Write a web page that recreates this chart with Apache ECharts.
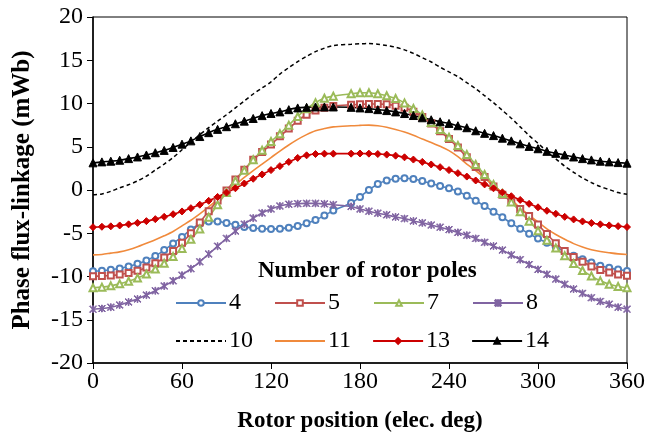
<!DOCTYPE html>
<html><head><meta charset="utf-8">
<script src="https://cdn.jsdelivr.net/npm/echarts@6/dist/echarts.min.js"></script>
<style>html,body{margin:0;padding:0;background:#fff;width:648px;height:438px;overflow:hidden}#c{width:648px;height:438px;display:block}</style>
</head><body><div id="c"></div>
<script>
// Rotor positions (elec. deg) - no sample at 168
var positions = [0,6,12,18,24,30,36,42,48,54,60,66,72,78,84,90,96,102,108,114,120,126,132,138,144,150,156,162,
  174,180,186,192,198,204,210,216,222,228,234,240,246,252,258,264,270,276,282,288,294,300,306,312,318,324,330,336,342,348,354,360];
var p4 = [-9.4,-9.33,-9.22,-9.07,-8.84,-8.53,-8.15,-7.62,-6.94,-6.18,-5.42,-4.58,-3.9,-3.63,-3.63,-3.82,-4.01,-4.28,-4.39,-4.47,-4.5,-4.47,-4.35,-4.15,-3.85,-3.48,-2.95,-2.38,
  -1.5,-0.8,0.0,0.7,1.1,1.3,1.35,1.27,1.05,0.75,0.45,0.2,-0.17,-0.67,-1.25,-1.85,-2.5,-3.15,-3.85,-4.47,-5.05,-5.6,-6.1,-6.6,-7.1,-7.6,-8.0,-8.38,-8.76,-9.0,-9.2,-9.35];
var p5 = [-9.98,-9.94,-9.88,-9.78,-9.6,-9.33,-8.95,-8.46,-7.81,-7.05,-6.1,-5.0,-3.75,-2.45,-1.2,-0.05,1.2,2.35,3.5,4.4,5.25,6.2,7.1,8.0,8.7,9.2,9.5,9.7,
  9.85,9.9,9.95,9.95,9.9,9.75,9.5,9.05,8.45,7.7,6.8,5.9,4.9,3.8,2.65,1.5,0.4,-0.55,-1.35,-2.2,-3.0,-4.0,-5.1,-6.15,-7.05,-7.75,-8.3,-8.85,-9.25,-9.55,-9.78,-9.9];
var p7 = [-11.3,-11.23,-11.08,-10.85,-10.55,-10.17,-9.71,-9.14,-8.46,-7.7,-6.75,-5.7,-4.5,-3.15,-1.7,-0.3,1.05,2.27,3.5,4.6,5.6,6.5,7.5,8.5,9.4,10.1,10.6,10.85,
  11.12,11.23,11.25,11.12,10.9,10.57,10.07,9.43,8.67,7.8,7.0,6.1,5.15,4.1,2.95,1.8,0.65,-0.4,-1.4,-2.5,-3.6,-4.7,-5.8,-6.7,-7.6,-8.5,-9.3,-9.95,-10.5,-10.9,-11.15,-11.3];
var p8 = [-13.78,-13.7,-13.55,-13.3,-12.95,-12.6,-12.15,-11.65,-11.1,-10.5,-9.85,-9.1,-8.3,-7.4,-6.5,-5.6,-4.75,-3.95,-3.25,-2.65,-2.2,-1.85,-1.65,-1.58,-1.55,-1.55,-1.6,-1.7,
  -1.9,-2.2,-2.45,-2.68,-2.87,-3.12,-3.3,-3.58,-3.8,-4.05,-4.3,-4.58,-4.9,-5.23,-5.6,-6.05,-6.48,-6.95,-7.5,-8.05,-8.62,-9.18,-9.75,-10.3,-10.9,-11.45,-11.95,-12.45,-12.88,-13.2,-13.55,-13.77];
var p10 = [-0.55,-0.45,-0.15,0.25,0.6,1.05,1.6,2.3,3.0,3.75,4.65,5.55,6.4,7.2,7.95,8.7,9.5,10.3,11.1,11.8,12.5,13.4,14.15,14.85,15.45,16.0,16.4,16.7,
  16.85,16.9,16.93,16.85,16.7,16.5,16.2,15.8,15.3,14.8,14.2,13.65,13.1,12.4,11.7,10.9,10.1,9.2,8.3,7.3,6.3,5.4,4.45,3.6,2.75,2.05,1.4,0.85,0.4,0.05,-0.3,-0.5];
var p11 = [-7.5,-7.45,-7.3,-7.15,-6.9,-6.56,-6.15,-5.75,-5.3,-4.8,-4.15,-3.5,-2.75,-1.95,-1.1,-0.25,0.6,1.45,2.25,3.0,3.75,4.5,5.2,5.85,6.4,6.85,7.1,7.3,
  7.43,7.47,7.5,7.42,7.25,7.0,6.7,6.32,5.9,5.5,5.05,4.55,3.85,3.0,2.25,1.4,0.55,-0.3,-1.1,-2.1,-2.9,-3.7,-4.5,-5.15,-5.7,-6.2,-6.6,-6.9,-7.1,-7.25,-7.38,-7.45];
var p13 = [-4.3,-4.25,-4.2,-4.1,-3.97,-3.8,-3.6,-3.37,-3.1,-2.8,-2.48,-2.1,-1.7,-1.25,-0.8,-0.3,0.2,0.75,1.3,1.8,2.3,2.76,3.25,3.71,4.01,4.16,4.2,4.2,
  4.2,4.22,4.2,4.16,4.09,3.97,3.78,3.52,3.25,2.95,2.64,2.3,1.95,1.55,1.1,0.65,0.2,-0.28,-0.72,-1.15,-1.6,-2.0,-2.4,-2.75,-3.1,-3.4,-3.63,-3.82,-3.97,-4.09,-4.18,-4.28];
var p14 = [3.14,3.25,3.33,3.44,3.63,3.82,4.05,4.31,4.58,4.92,5.3,5.68,6.18,6.63,7.01,7.32,7.66,7.96,8.27,8.6,8.85,9.03,9.29,9.49,9.56,9.6,9.6,9.6,
  9.56,9.49,9.41,9.29,9.18,9.03,8.84,8.61,8.35,8.12,7.89,7.7,7.43,7.2,6.85,6.55,6.29,5.99,5.68,5.34,5.04,4.77,4.47,4.24,4.05,3.82,3.63,3.48,3.33,3.25,3.17,3.1];
var xTicks = [0,60,120,180,240,300,360];
var legendTitle = 'Number of rotor poles';

var FONT = '"Liberation Serif", "Times New Roman", serif';
function pairs(v){ return positions.map(function(x,i){ return [x, v[i]]; }); }
var star = 'path://M4.4,0L5.6,0L5.6,10L4.4,10Z M0,0.8L0.8,0L10,9.2L9.2,10Z M9.2,0L10,0.8L0.8,10L0,9.2Z';
function mk(name, data, color, symbol, size, opts){
  var s = {name:name, type:'line', data:pairs(data), smooth:0.3, symbol:symbol, symbolSize:size,
    showSymbol: symbol !== 'none', lineStyle:{color:color, width:1.6}, itemStyle:{color:color, borderColor:color, borderWidth:1},
    emphasis:{disabled:true}, animation:false, z:2};
  if (opts) for (var k in opts) s[k]=opts[k];
  return s;
}
var series = [
  mk('4', p4, '#4F81BD', 'emptyCircle', 6),
  mk('5', p5, '#C0504D', 'emptyRect', 6),
  mk('7', p7, '#9BBB59', 'emptyTriangle', 7),
  mk('8', p8, '#8064A2', star, 7),
  mk('10', p10, '#000000', 'none', 0, {lineStyle:{color:'#000', width:1.5, type:[4,3]}}),
  mk('11', p11, '#F08A3C', 'none', 0),
  mk('13', p13, '#CC0000', 'diamond', 7),
  mk('14', p14, '#000000', 'triangle', 8)
];
var noMark = {opacity:0};
var legBase = {orient:'horizontal', itemWidth:50, itemHeight:7, selectedMode:false, padding:0,
  textStyle:{fontFamily:FONT, fontSize:24, color:'#000', padding:[0,0,0,-2]}};
var chart = echarts.init(document.getElementById('c'), null, {renderer:'canvas', width:648, height:438});
chart.setOption({
  backgroundColor:'#fff',
  animation:false,
  grid:{left:93, right:19, top:17, bottom:71, show:true, borderColor:'#000', borderWidth:1, backgroundColor:'transparent'},
  xAxis:{type:'value', min:0, max:360, interval:60,
    name:'Rotor position (elec. deg)', nameLocation:'middle', nameGap:47,
    nameTextStyle:{fontFamily:FONT, fontSize:23, fontWeight:'bold', color:'#000'},
    axisLine:{onZero:false, lineStyle:{color:'#000', width:1.5}}, axisTick:{inside:false, length:6, lineStyle:{color:'#000'}},
    axisLabel:{fontFamily:FONT, fontSize:24, color:'#000', margin:7, customValues:xTicks},
    splitLine:{show:false}},
  yAxis:{type:'value', min:-20, max:20, interval:5,
    name:'Phase flux-linkage (mWb)', nameLocation:'middle', nameGap:58, nameRotate:90,
    nameTextStyle:{fontFamily:FONT, fontSize:25, fontWeight:'bold', color:'#000'},
    axisLine:{onZero:false, lineStyle:{color:'#000', width:1.5}}, axisTick:{inside:false, length:6, lineStyle:{color:'#000'}},
    axisLabel:{fontFamily:FONT, fontSize:24, color:'#000', margin:10},
    splitLine:{show:false}},
  legend:[
    Object.assign({}, legBase, {data:['4','5','7','8'], left:175, top:291, itemGap:33}),
    Object.assign({}, legBase, {data:[{name:'10', itemStyle:noMark},{name:'11', itemStyle:noMark},'13','14'], left:175, top:329, itemGap:21})
  ],
  graphic:[{type:'text', left:258, top:260, style:{text:legendTitle, font:'bold 23px '+FONT, fill:'#000'}, z:10}],
  series:series
});
</script></body></html>
